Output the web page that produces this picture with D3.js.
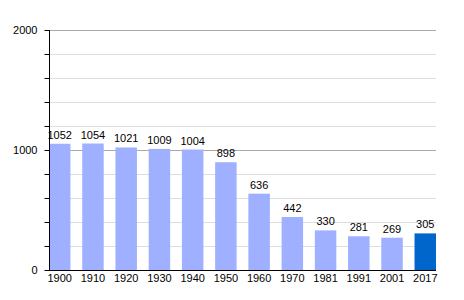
<!DOCTYPE html>
<html lang="en">
<head>
    <meta charset="UTF-8">
    <title>Population</title>
    <style>
        body { margin: 0; background: white; }
        svg { display: block; }
        text { font-family: "Liberation Sans", Arial, sans-serif; font-size: 11px; fill: #000; }
    </style>
</head>
<body>
    <svg width="464" height="300"></svg>
    <script src="https://d3js.org/d3.v7.min.js"></script>
    <script>
        const years = ["1900", "1910", "1920", "1930", "1940", "1950", "1960", "1970", "1981", "1991", "2001", "2017"];
        const population = [1052, 1054, 1021, 1009, 1004, 898, 636, 442, 330, 281, 269, 305];
        const majorTicks = [0, 1000, 2000];
        const minorTicks = [200, 400, 600, 800, 1200, 1400, 1600, 1800];

        const svg = d3.select("svg");
        const plotLeft = 49, plotRight = 436, plotTop = 30, plotBottom = 270;

        const x = d3.scaleBand()
            .domain(years)
            .range([plotLeft, plotRight])
            .paddingInner(0.354)
            .paddingOuter(0);

        const y = d3.scaleLinear()
            .domain([0, 2000])
            .range([plotBottom, plotTop]);

        // minor grid lines
        svg.append("g").selectAll("line")
            .data(minorTicks)
            .join("line")
            .attr("x1", plotLeft).attr("x2", plotRight)
            .attr("y1", d => y(d) + 0.5).attr("y2", d => y(d) + 0.5)
            .attr("stroke", "#dddddd");

        // major grid lines
        svg.append("g").selectAll("line")
            .data(majorTicks.filter(d => d > 0))
            .join("line")
            .attr("x1", plotLeft).attr("x2", plotRight)
            .attr("y1", d => y(d) + 0.5).attr("y2", d => y(d) + 0.5)
            .attr("stroke", "#aaaaaa");

        // bars
        svg.append("g").selectAll("rect")
            .data(population)
            .join("rect")
            .attr("x", (d, i) => x(years[i]))
            .attr("width", x.bandwidth())
            .attr("y", d => y(d))
            .attr("height", d => plotBottom - y(d))
            .attr("fill", (d, i) => i === years.length - 1 ? "#0066cc" : "#9eb0ff");

        // value labels
        svg.append("g").selectAll("text")
            .data(population)
            .join("text")
            .attr("x", (d, i) => x(years[i]) + x.bandwidth() / 2)
            .attr("y", d => y(d) - 5)
            .attr("text-anchor", "middle")
            .text(d => d);

        // y axis
        const yAxis = svg.append("g")
            .attr("transform", `translate(${plotLeft + 0.5},0)`)
            .call(d3.axisLeft(y).tickValues(majorTicks.concat(minorTicks)).tickSize(5).tickPadding(7)
                .tickFormat(d => majorTicks.includes(d) ? d : ""));
        yAxis.select(".domain").attr("stroke", "#000").attr("d", `M0,${plotTop}V${plotBottom}`);
        yAxis.selectAll(".tick line").attr("stroke", "#000");
        yAxis.selectAll("text").style("font-size", "11px");

        // x axis
        const xAxis = svg.append("g")
            .attr("transform", `translate(0,${plotBottom + 0.5})`)
            .call(d3.axisBottom(x).tickSize(0).tickPadding(4));
        xAxis.select(".domain").attr("stroke", "#000").attr("d", `M${plotLeft},0H${plotRight}`);
        xAxis.selectAll("text").style("font-size", "11px");
    </script>
</body>
</html>
